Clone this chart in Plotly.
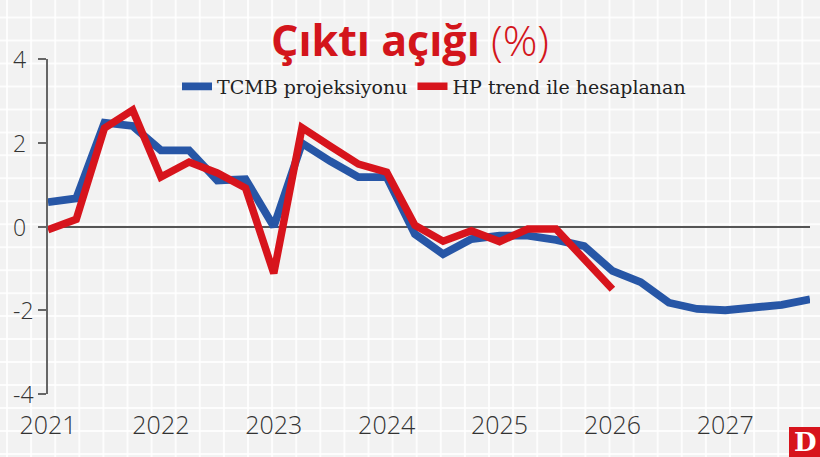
import plotly.graph_objects as go

# ---------------- data ----------------
periods = [f"{y}Q{q}" for y in range(2021, 2028) for q in range(1, 5)]
x_years = [int(p[:4]) + (int(p[-1]) - 1) * 0.25 for p in periods]

tcmb = [0.58, 0.67, 2.48, 2.40, 1.82, 1.82, 1.10, 1.13, 0.00, 1.99, 1.56, 1.18,
        1.18, -0.18, -0.66, -0.30, -0.22, -0.22, -0.32, -0.47, -1.06, -1.33,
        -1.82, -1.97, -2.00, -1.95, -1.87, -1.74]
hp = [-0.08, 0.17, 2.35, 2.78, 1.18, 1.54, 1.28, 0.92, -1.12, 2.36, 1.92, 1.49,
      1.30, 0.03, -0.35, -0.10, -0.36, -0.06, -0.06, -0.77, -1.50]

series_names = ["TCMB projeksiyonu", "HP trend ile hesaplanan"]
series_colors = ["#2756a6", "#d7141c"]

year_ticks = [2021, 2022, 2023, 2024, 2025, 2026, 2027]
year_labels = [str(y) for y in year_ticks]
y_ticks = [4, 2, 0, -2, -4]
y_labels = ["4", "2", "0", "-2", "-4"]

title_main = "Çıktı açığı"
title_unit = "(%)"

# ---------------- geometry ----------------
W, H = 820, 457
ML, MR, MT, MB = 48, 10, 58.5, 63
PW, PH = W - ML - MR, H - MT - MB


def px_to_paper_x(px):
    return (px - ML) / PW


def py_to_paper_y(py):
    return (H - MB - py) / PH


fig = go.Figure()

fig.add_trace(go.Scatter(x=x_years, y=tcmb, mode="lines", name=series_names[0],
                         line=dict(color=series_colors[0], width=7.8)))
fig.add_trace(go.Scatter(x=x_years[:len(hp)], y=hp, mode="lines", name=series_names[1],
                         line=dict(color=series_colors[1], width=7.5)))

# decorative background grid (whole canvas)
shapes = []
gx = 7.0
while gx < W:
    shapes.append(dict(type="line", xref="paper", yref="paper",
                       x0=px_to_paper_x(gx), x1=px_to_paper_x(gx),
                       y0=py_to_paper_y(H + 2), y1=py_to_paper_y(-2),
                       line=dict(color="rgba(255,255,255,0.8)", width=2), layer="below"))
    gx += 24.1
gy = 385.0 + 23 * 3
while gy > 0:
    shapes.append(dict(type="line", xref="paper", yref="paper",
                       x0=px_to_paper_x(-2), x1=px_to_paper_x(W + 2),
                       y0=py_to_paper_y(gy), y1=py_to_paper_y(gy),
                       line=dict(color="rgba(255,255,255,0.8)", width=2), layer="below"))
    gy -= 23

# logo box
shapes.append(dict(type="rect", xref="paper", yref="paper",
                   x0=px_to_paper_x(789), x1=px_to_paper_x(W + 2),
                   y0=py_to_paper_y(H + 2), y1=py_to_paper_y(427),
                   fillcolor="#d7141c", line=dict(width=0), layer="above"))

annotations = []
# title
annotations.append(dict(
    xref="paper", yref="paper", x=px_to_paper_x(410), y=py_to_paper_y(39),
    xanchor="center", yanchor="middle", showarrow=False,
    text=f"<b>{title_main}</b> <span style='font-weight:300'>{title_unit}</span>",
    font=dict(family="Open Sans, Roboto, sans-serif", size=43, color="#d3151b", weight=800)))
# y tick labels (left aligned)
for v, lab in zip(y_ticks, y_labels):
    annotations.append(dict(xref="paper", yref="y", x=px_to_paper_x(11), y=v,
                            xanchor="left", yanchor="middle", showarrow=False, text=lab,
                            font=dict(family="Open Sans, sans-serif",
                                      size=23, color="#333333", weight=300)))
# logo letter
annotations.append(dict(xref="paper", yref="paper", x=px_to_paper_x(805), y=py_to_paper_y(442),
                        xanchor="center", yanchor="middle", showarrow=False, text="<b>D</b>",
                        font=dict(family="DejaVu Serif, serif", size=26, color="white")))

fig.update_layout(
    width=W, height=H,
    margin=dict(l=ML, r=MR, t=MT, b=MB, pad=0),
    paper_bgcolor="#f2f2f2",
    plot_bgcolor="rgba(0,0,0,0)",
    shapes=shapes,
    annotations=annotations,
    showlegend=True,
    legend=dict(orientation="h", x=px_to_paper_x(177), y=py_to_paper_y(86),
                xanchor="left", yanchor="middle", bgcolor="rgba(0,0,0,0)",
                font=dict(family="DejaVu Serif, serif", size=19, color="#222222"),
                traceorder="normal"),
    xaxis=dict(range=[2021, 2027.75], showgrid=False, zeroline=False, showline=False,
               tickmode="array", tickvals=year_ticks, ticktext=year_labels,
               ticks="outside", ticklen=9, tickcolor="rgba(0,0,0,0)",
               tickfont=dict(family="Open Sans, sans-serif",
                             size=25, color="#333333", weight=300),
               fixedrange=True),
    xaxis2=dict(range=[2021, 2027.75], overlaying="x", anchor="free", position=0.5,
                side="bottom", showgrid=False, zeroline=False, showline=False,
                tickmode="array", tickvals=year_ticks[1:], ticks="outside", ticklen=8,
                tickwidth=1.5, tickcolor="#555555", showticklabels=False),
    yaxis=dict(range=[-4, 4], showgrid=False, zeroline=True, zerolinecolor="#555555",
               zerolinewidth=1.5, showline=True, linecolor="#666666", linewidth=1.5,
               ticks="outside", ticklen=8, tickwidth=1.5, tickcolor="#666666",
               tickmode="array", tickvals=y_ticks, showticklabels=False),
)

fig.write_html("out.html")
